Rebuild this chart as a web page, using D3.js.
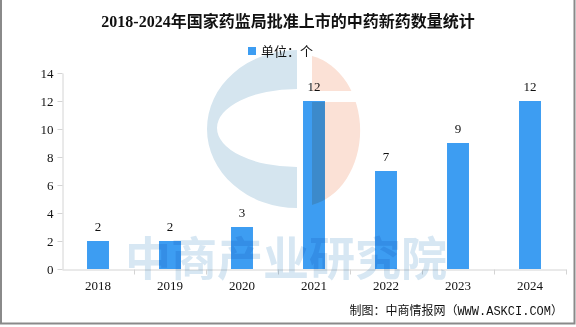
<!DOCTYPE html>
<html>
<head>
<meta charset="utf-8">
<script src="https://cdn.jsdelivr.net/npm/d3@7"></script>
<style>
  html, body { margin: 0; padding: 0; background: #fff; }
  svg { display: block; }
  .num { font-family: "Liberation Serif", "Noto Sans CJK SC", serif; }
  .cjk { font-family: "Liberation Serif", "Noto Sans CJK SC", sans-serif; }
</style>
</head>
<body>
<div id="chart"></div>
<script>
// Approved new traditional Chinese medicines per year
const years = ["2018", "2019", "2020", "2021", "2022", "2023", "2024"];
const counts = [2, 2, 3, 12, 7, 9, 12];
const yTickValues = [0, 2, 4, 6, 8, 10, 12, 14];

const titleText = "2018-2024年国家药监局批准上市的中药新药数量统计";
const legendText = "单位：个";
const sourceText = "制图：中商情报网（WWW.ASKCI.COM）";
const watermarkText = "中商产业研究院";

const W = 576, H = 327;
const plot = { left: 62, right: 566, top: 73, bottom: 269 };
const barColor = "#3d9df2";
const axisColor = "#d4d4d4";

const svg = d3.select("#chart").append("svg")
  .attr("width", W).attr("height", H);

// frame
svg.append("path")
  .attr("d", `M1,0 V323.5 H574.5 V0`)
  .attr("fill", "none").attr("stroke", "#8a8a8a").attr("stroke-width", 2);

// scales
const x = d3.scaleBand().domain(years).range([plot.left, plot.right]).padding(0);
const xEdges = d3.scaleLinear().domain([0, years.length]).range([plot.left, plot.right]);
const y = d3.scaleLinear().domain([0, 14]).range([plot.bottom, plot.top]);
const barW = x.bandwidth() * 0.305;

// title
svg.append("text").attr("class", "cjk")
  .attr("x", 288).attr("y", 21)
  .attr("text-anchor", "middle").attr("dominant-baseline", "central")
  .attr("font-size", 16).attr("font-weight", "bold").attr("fill", "#111")
  .text(titleText);

// legend
svg.append("rect").attr("x", 248).attr("y", 47).attr("width", 8).attr("height", 8)
  .attr("fill", barColor);
svg.append("text").attr("class", "cjk")
  .attr("x", 261).attr("y", 51)
  .attr("dominant-baseline", "central")
  .attr("font-size", 13).attr("fill", "#111")
  .text(legendText);

// y axis
const yAxis = svg.append("g")
  .attr("transform", `translate(${plot.left + 0.5},0)`)
  .call(d3.axisLeft(y).tickValues(yTickValues).tickSize(5).tickSizeOuter(0).tickPadding(4));
yAxis.select(".domain").attr("stroke", axisColor);
yAxis.selectAll(".tick line").attr("stroke", axisColor);
yAxis.selectAll(".tick text").attr("class", "num").attr("font-size", 13).attr("fill", "#111");

// x axis: boundary ticks
const xAxisTicks = svg.append("g")
  .attr("transform", `translate(0,${plot.bottom + 0.5})`)
  .call(d3.axisBottom(xEdges).tickValues(d3.range(1, years.length + 1)).tickSize(5).tickSizeOuter(0).tickFormat(""));
xAxisTicks.select(".domain").attr("stroke", axisColor);
xAxisTicks.selectAll(".tick line").attr("stroke", axisColor);

// x axis: category labels
const xAxisLabels = svg.append("g")
  .attr("transform", `translate(0,${plot.bottom})`)
  .call(d3.axisBottom(x).tickSize(0).tickPadding(12));
xAxisLabels.select(".domain").remove();
xAxisLabels.selectAll(".tick text").attr("class", "num").attr("font-size", 13).attr("fill", "#111");

// bars
svg.append("g").selectAll("rect").data(years).join("rect")
  .attr("x", (d) => x(d) + (x.bandwidth() - barW) / 2)
  .attr("y", (d, i) => y(counts[i]))
  .attr("width", barW)
  .attr("height", (d, i) => y(0) - y(counts[i]))
  .attr("fill", barColor);

// value labels
svg.append("g").selectAll("text").data(years).join("text")
  .attr("class", "num")
  .attr("x", (d) => x(d) + x.bandwidth() / 2)
  .attr("y", (d, i) => y(counts[i]) - 15)
  .attr("text-anchor", "middle").attr("dominant-baseline", "central")
  .attr("font-size", 13).attr("fill", "#111")
  .text((d, i) => counts[i]);

// watermark logo and text
const defs = svg.append("defs");
const clip = defs.append("clipPath").attr("id", "stripeCut");
clip.append("rect").attr("x", 300).attr("y", 40).attr("width", 100).attr("height", 51);
clip.append("rect").attr("x", 300).attr("y", 102).attr("width", 100).attr("height", 120);

const mark = svg.append("g").style("mix-blend-mode", "multiply").style("isolation", "auto");

// blue "C": left half ellipse with an elliptical opening
const cx = 297, cy = 129;
mark.append("path")
  .attr("d",
    `M${cx},${cy - 79} A90,79 0 0 0 ${cx},${cy + 79} Z ` +
    `M${cx},${cy - 40} A80,39 0 0 0 ${cx},${cy + 38} Z`)
  .attr("fill", "#d5e5ef").attr("fill-rule", "evenodd")
  .style("mix-blend-mode", "multiply");

// salmon right half with a horizontal cut
mark.append("path")
  .attr("clip-path", "url(#stripeCut)")
  .attr("d", `M312,${cy - 73} A60,76 0 0 1 312,${cy + 76} Z`)
  .attr("fill", "#fbe1d6")
  .style("mix-blend-mode", "multiply");

svg.append("text")
  .attr("x", 286).attr("y", 255)
  .attr("text-anchor", "middle").attr("dominant-baseline", "central")
  .attr("font-family", "Noto Sans CJK SC").attr("font-weight", "bold")
  .attr("font-size", 46).attr("fill", "#d7e7f3")
  .style("mix-blend-mode", "multiply")
  .text(watermarkText);

// source note
svg.append("text")
  .attr("x", 563).attr("y", 312)
  .attr("text-anchor", "end").attr("dominant-baseline", "central")
  .attr("font-family", "Liberation Mono, Noto Sans CJK SC, monospace")
  .attr("font-size", 12).attr("fill", "#111")
  .text(sourceText);
</script>
</body>
</html>
